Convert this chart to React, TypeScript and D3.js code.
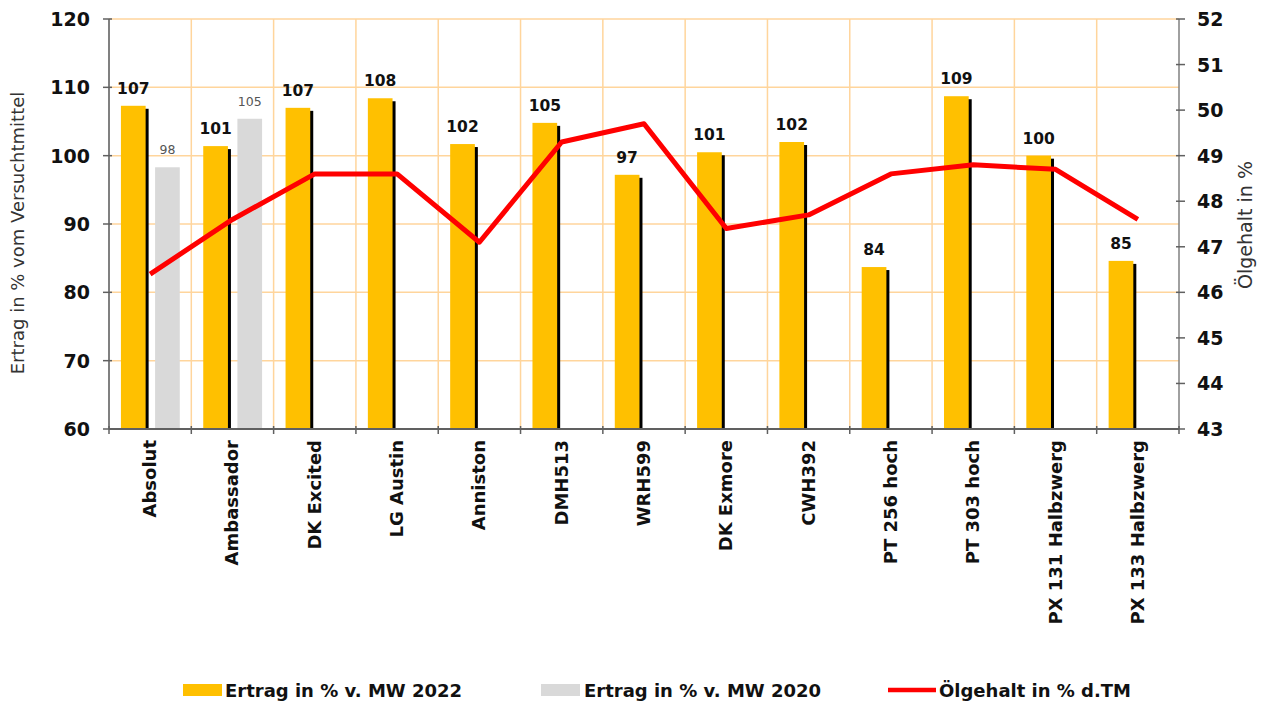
import React from "react";
import * as d3 from "d3";

const categories = ["Absolut", "Ambassador", "DK Excited", "LG Austin", "Anniston", "DMH513", "WRH599", "DK Exmore", "CWH392", "PT 256 hoch", "PT 303 hoch", "PX 131 Halbzwerg", "PX 133 Halbzwerg"];
const ertrag2022 = [107.3, 101.4, 107.0, 108.4, 101.7, 104.8, 97.2, 100.5, 102.0, 83.7, 108.7, 100.0, 84.6];
const ertrag2020: (number | null)[] = [98.3, 105.4, null, null, null, null, null, null, null, null, null, null, null];
const oelgehalt = [46.4, 47.6, 48.6, 48.6, 47.1, 49.3, 49.7, 47.4, 47.7, 48.6, 48.8, 48.7, 47.6];
const leftTicks = [60, 70, 80, 90, 100, 110, 120];
const rightTicks = [43, 44, 45, 46, 47, 48, 49, 50, 51, 52];

const W = 1266, H = 704;
const left = 109, right = 1179, top = 19, bottom = 429;
const font = "'DejaVu Sans', Verdana, sans-serif";

export default function App() {
  const x = d3.scaleBand().domain(categories).range([left, right]).padding(0);
  const y = d3.scaleLinear().domain([60, 120]).range([bottom, top]);
  const y2 = d3.scaleLinear().domain([43, 52]).range([bottom, top]);
  const bw = x.bandwidth();
  const barW = bw * 0.3;
  const off1 = bw * 0.145;
  const off2 = bw * 0.56;

  const line = d3.line<number>()
    .x((d, i) => (x(categories[i]) as number) + bw / 2)
    .y(d => y2(d));

  return (
    <svg width={W} height={H} style={{ position: "absolute", left: 0, top: 0, background: "#fff" }}>
      {/* grid */}
      {leftTicks.map(t => (
        <line key={"h" + t} x1={left} x2={right} y1={y(t)} y2={y(t)} stroke="#FFD59C" strokeWidth={1.5} />
      ))}
      {categories.map(c => (
        <line key={"v" + c} x1={x(c)} x2={x(c)} y1={top} y2={bottom} stroke="#FFD59C" strokeWidth={1.5} />
      ))}

      {/* bars */}
      {categories.map((c, i) => {
        const x0 = x(c) as number;
        const v = ertrag2022[i];
        const g = ertrag2020[i];
        return (
          <g key={"b" + c}>
            <rect x={x0 + off1 + 3} y={y(v) + 3} width={barW} height={bottom - y(v) - 3} fill="#000" />
            <rect x={x0 + off1} y={y(v)} width={barW} height={bottom - y(v)} fill="#FFC000" />
            <text x={x0 + off1 + barW / 2} y={y(v) - 12} textAnchor="middle" fontFamily={font} fontWeight="bold" fontSize={15.5} fill="#111">{Math.round(v)}</text>
            {g != null && (
              <>
                <rect x={x0 + off2} y={y(g)} width={barW} height={bottom - y(g)} fill="#D9D9D9" />
                <text x={x0 + off2 + barW / 2} y={y(g) - 13} textAnchor="middle" fontFamily={font} fontSize={12.5} fill="#555">{Math.round(g)}</text>
              </>
            )}
          </g>
        );
      })}

      {/* line */}
      <path d={line(oelgehalt) || ""} fill="none" stroke="#FF0000" strokeWidth={5} strokeLinejoin="round" />

      {/* axes */}
      <line x1={left} x2={left} y1={top} y2={bottom} stroke="#808080" strokeWidth={2} />
      <line x1={right} x2={right} y1={top} y2={bottom} stroke="#808080" strokeWidth={1.5} />
      <line x1={left} x2={right} y1={bottom} y2={bottom} stroke="#606060" strokeWidth={2} />
      {leftTicks.map(t => (
        <g key={"lt" + t}>
          <line x1={left - 6} x2={left + 3} y1={y(t)} y2={y(t)} stroke="#606060" strokeWidth={1.5} />
          <text x={90} y={y(t) + 7} textAnchor="end" fontFamily={font} fontWeight="bold" fontSize={19} fill="#111">{t}</text>
        </g>
      ))}
      {rightTicks.map(t => (
        <g key={"rt" + t}>
          <line x1={right - 3} x2={right + 6} y1={y2(t)} y2={y2(t)} stroke="#606060" strokeWidth={1.5} />
          <text x={1197} y={y2(t) + 7} textAnchor="start" fontFamily={font} fontWeight="bold" fontSize={19} fill="#111">{t}</text>
        </g>
      ))}
      {categories.concat([""]).map((c, i) => {
        const xx = i < categories.length ? (x(c) as number) : right;
        return <line key={"xt" + i} x1={xx} x2={xx} y1={bottom - 3} y2={bottom + 5} stroke="#606060" strokeWidth={1.5} />;
      })}
      {categories.map(c => {
        const cx = (x(c) as number) + bw / 2 + 6;
        return (
          <text key={"xl" + c} transform={`translate(${cx},${bottom + 11}) rotate(-90)`} textAnchor="end" fontFamily={font} fontWeight="bold" fontSize={18} fill="#111">{c}</text>
        );
      })}

      {/* axis titles */}
      <text transform={`translate(24,${233}) rotate(-90)`} textAnchor="middle" fontFamily={font} fontSize={18} fill="#333">Ertrag in % vom Versuchtmittel</text>
      <text transform={`translate(1252,${225}) rotate(-90)`} textAnchor="middle" fontFamily={font} fontSize={19} fill="#333">Ölgehalt in %</text>

      {/* legend */}
      <rect x={183} y={684} width={39} height={12} fill="#FFC000" />
      <text x={225} y={697} fontFamily={font} fontWeight="bold" fontSize={18} fill="#111">Ertrag in % v. MW 2022</text>
      <rect x={541} y={684} width={39} height={12} fill="#D9D9D9" />
      <text x={584} y={697} fontFamily={font} fontWeight="bold" fontSize={18} fill="#111">Ertrag in % v. MW 2020</text>
      <line x1={888} x2={936} y1={690} y2={690} stroke="#FF0000" strokeWidth={4.5} />
      <text x={939} y={697} fontFamily={font} fontWeight="bold" fontSize={18} fill="#111">Ölgehalt in % d.TM</text>
    </svg>
  );
}
